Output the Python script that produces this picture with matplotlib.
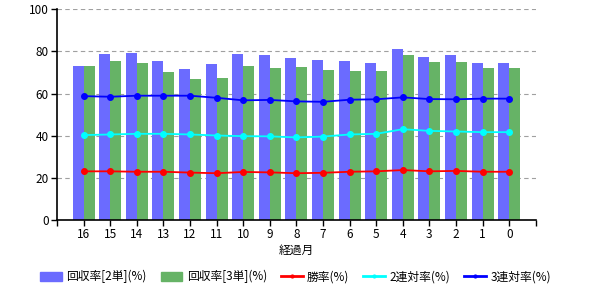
#!/usr/bin/env python3
from matplotlib import pyplot as plt
from matplotlib.patches import Patch
from matplotlib.lines import Line2D
import numpy as np

plt.rcParams['font.family'] = ['Noto Sans CJK JP', 'DejaVu Sans']

# data (months elapsed, read left to right)
months = ['16', '15', '14', '13', '12', '11', '10', '9', '8', '7', '6', '5', '4', '3', '2', '1', '0']
kaishu2 = [73.0, 78.7, 79.3, 75.4, 71.6, 73.9, 78.7, 78.2, 76.8, 75.8, 75.4, 74.4, 81.0, 77.3, 78.2, 74.4, 74.4]
kaishu3 = [73.0, 75.4, 74.4, 70.2, 66.9, 67.4, 73.0, 72.1, 72.6, 71.2, 70.7, 70.7, 78.3, 74.9, 74.9, 72.1, 72.1]
win_rate = [23.1, 23.1, 22.9, 22.9, 22.5, 22.2, 22.8, 22.6, 22.2, 22.4, 22.9, 23.1, 23.7, 23.1, 23.3, 22.9, 22.9]
rentai2 = [40.3, 40.6, 40.9, 40.9, 40.6, 40.1, 39.8, 39.7, 39.2, 39.6, 40.6, 40.9, 43.1, 42.3, 42.0, 41.7, 41.7]
rentai3 = [58.8, 58.5, 59.0, 59.0, 59.0, 58.0, 56.8, 57.0, 56.3, 56.1, 57.1, 57.3, 58.2, 57.4, 57.3, 57.6, 57.6]

labels = ['回収率[2単](%)', '回収率[3単](%)', '勝率(%)', '2連対率(%)', '3連対率(%)']
bar_colors = ['#6b6bff', '#66b366']
line_colors = ['#ff0000', '#00ffff', '#0000ff']

x = np.arange(len(months))
w = 0.41

fig = plt.figure(figsize=(6, 3), dpi=100)
ax = fig.add_axes([0.095, 0.2667, 0.798, 0.7022])

ax.bar(x - w / 2, kaishu2, w, color=bar_colors[0], zorder=2)
ax.bar(x + w / 2, kaishu3, w, color=bar_colors[1], zorder=2)
for vals, c in zip([win_rate, rentai2, rentai3], line_colors):
	ax.plot(x, vals, color=c, lw=1.3, marker='o', ms=4, zorder=3)

ax.set_xlim(-1, len(months))
ax.set_ylim(0, 100)
ax.set_yticks([0, 20, 40, 60, 80, 100])
ax.set_xticks(np.arange(-1, len(months) + 1))
ax.set_xticklabels([''] + months + [''])
ax.tick_params(labelsize=8.5, length=4, width=1, pad=2)
ax.grid(axis='y', color='#a0a0a0', ls=(0, (4, 3)), lw=0.8, zorder=1)
for s in ['top', 'right']:
	ax.spines[s].set_visible(False)
for s in ['left', 'bottom']:
	ax.spines[s].set_linewidth(1.2)
ax.set_xlabel('経過月', fontsize=8.5, labelpad=2)

handles = [Patch(color=bar_colors[0]), Patch(color=bar_colors[1])]
handles += [Line2D([0], [0], color=c, lw=2, marker='o', ms=2) for c in line_colors]
fig.legend(handles, labels, loc='center', bbox_to_anchor=(0.4925, 0.077), ncol=5,
	frameon=False, fontsize=8.5, handlelength=1.85, handleheight=0.7,
	columnspacing=1.2, handletextpad=0.35, borderpad=0, borderaxespad=0)

plt.savefig('out.png', dpi=100)
